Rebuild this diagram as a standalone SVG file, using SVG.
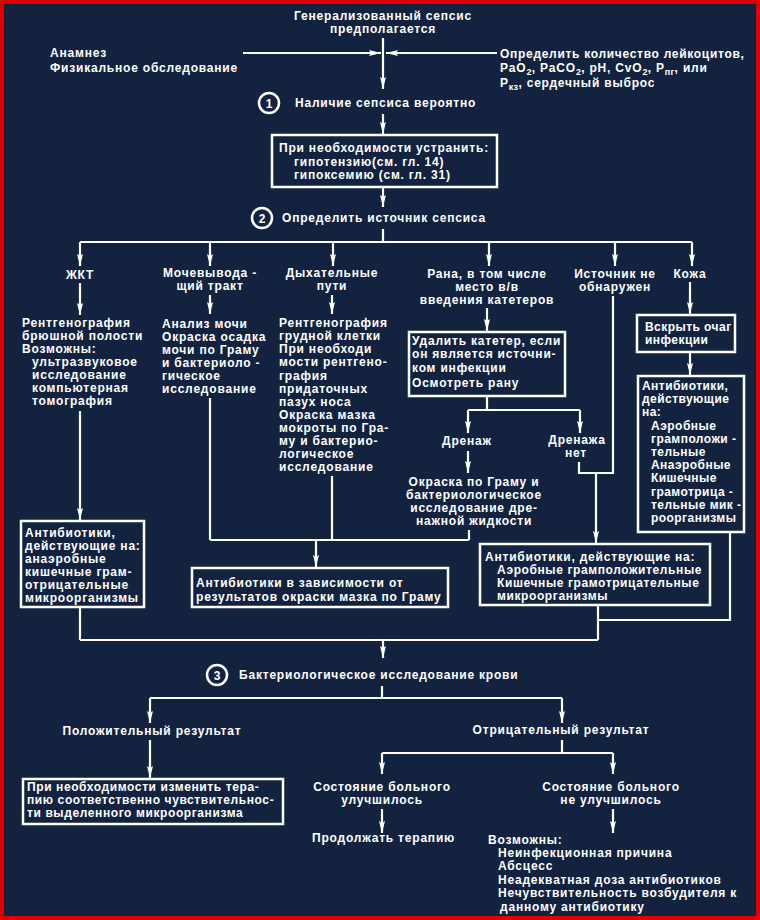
<svg xmlns="http://www.w3.org/2000/svg" width="760" height="920" viewBox="0 0 760 920">
<defs>
<style>
.t{font-family:"Liberation Sans",Arial,sans-serif;font-size:12px;font-weight:bold;fill:#fff;letter-spacing:0.8px}
.m{text-anchor:middle}
.ln{stroke:#fff;stroke-width:2.2;fill:none}
.box{stroke:#fff;stroke-width:2.5;fill:none}
.sub{font-size:9px;letter-spacing:0.3px}
.nar{letter-spacing:0.45px}
.mid{letter-spacing:0.6px}
</style>
<marker id="ah" markerUnits="userSpaceOnUse" markerWidth="12" markerHeight="7" refX="12" refY="3.5" orient="auto">
<path d="M0,0.5 L12,3.5 L0,6.5 L2,3.5 z" fill="#fff"/>
</marker>
</defs>
<rect x="0" y="0" width="760" height="920" fill="#13233f"/>
<rect x="2" y="2" width="756" height="916" fill="none" stroke="#e00000" stroke-width="4"/>

<g id="connectors">
<line class="ln" x1="383" y1="38" x2="383" y2="89" marker-end="url(#ah)"/>
<line class="ln" x1="243" y1="53" x2="381" y2="53" marker-end="url(#ah)"/>
<line class="ln" x1="497" y1="53" x2="386" y2="53" marker-end="url(#ah)"/>
<line class="ln" x1="383" y1="114" x2="383" y2="134" marker-end="url(#ah)"/>
<line class="ln" x1="383" y1="187" x2="383" y2="207" marker-end="url(#ah)"/>
<line class="ln" x1="383" y1="229" x2="383" y2="242"/>
<line class="ln" x1="80" y1="242" x2="692" y2="242"/>
<line class="ln" x1="80" y1="242" x2="80" y2="266" marker-end="url(#ah)"/>
<line class="ln" x1="210" y1="242" x2="210" y2="266" marker-end="url(#ah)"/>
<line class="ln" x1="333" y1="242" x2="333" y2="266" marker-end="url(#ah)"/>
<line class="ln" x1="489" y1="242" x2="489" y2="266" marker-end="url(#ah)"/>
<line class="ln" x1="615" y1="242" x2="615" y2="266" marker-end="url(#ah)"/>
<line class="ln" x1="692" y1="242" x2="692" y2="266" marker-end="url(#ah)"/>
<line class="ln" x1="80" y1="283" x2="80" y2="315" marker-end="url(#ah)"/>
<line class="ln" x1="210" y1="295" x2="210" y2="314" marker-end="url(#ah)"/>
<line class="ln" x1="332" y1="295" x2="332" y2="314" marker-end="url(#ah)"/>
<line class="ln" x1="487" y1="308" x2="487" y2="331" marker-end="url(#ah)"/>
<line class="ln" x1="690" y1="282" x2="690" y2="314" marker-end="url(#ah)"/>
<line class="ln" x1="80" y1="411" x2="80" y2="520" marker-end="url(#ah)"/>
<line class="ln" x1="80" y1="607" x2="80" y2="640"/>
<line class="ln" x1="80" y1="640" x2="598" y2="640"/>
<line class="ln" x1="210" y1="398" x2="210" y2="540"/>
<line class="ln" x1="332" y1="476" x2="332" y2="540"/>
<line class="ln" x1="210" y1="540" x2="469" y2="540"/>
<line class="ln" x1="469" y1="530" x2="469" y2="540"/>
<line class="ln" x1="316" y1="540" x2="316" y2="567" marker-end="url(#ah)"/>
<line class="ln" x1="487" y1="396" x2="487" y2="410"/>
<line class="ln" x1="468" y1="410" x2="580" y2="410"/>
<line class="ln" x1="468" y1="410" x2="468" y2="433" marker-end="url(#ah)"/>
<line class="ln" x1="580" y1="410" x2="580" y2="433" marker-end="url(#ah)"/>
<line class="ln" x1="468" y1="451" x2="468" y2="473" marker-end="url(#ah)"/>
<polyline class="ln" points="579,462 579,473 613,473 613,296"/>
<line class="ln" x1="596" y1="473" x2="596" y2="543" marker-end="url(#ah)"/>
<line class="ln" x1="690" y1="352" x2="690" y2="375" marker-end="url(#ah)"/>
<polyline class="ln" points="730,532 730,620 598,620"/>
<line class="ln" x1="598" y1="605" x2="598" y2="640"/>
<line class="ln" x1="383" y1="640" x2="383" y2="658" marker-end="url(#ah)"/>
<line class="ln" x1="382" y1="686" x2="382" y2="698"/>
<line class="ln" x1="150" y1="698" x2="562" y2="698"/>
<line class="ln" x1="150" y1="698" x2="150" y2="723" marker-end="url(#ah)"/>
<line class="ln" x1="562" y1="698" x2="562" y2="723" marker-end="url(#ah)"/>
<line class="ln" x1="150" y1="740" x2="150" y2="778" marker-end="url(#ah)"/>
<line class="ln" x1="562" y1="740" x2="562" y2="753"/>
<line class="ln" x1="382" y1="753" x2="613" y2="753"/>
<line class="ln" x1="382" y1="753" x2="382" y2="774" marker-end="url(#ah)"/>
<line class="ln" x1="613" y1="753" x2="613" y2="774" marker-end="url(#ah)"/>
<line class="ln" x1="382" y1="809" x2="382" y2="833" marker-end="url(#ah)"/>
<line class="ln" x1="613" y1="809" x2="613" y2="833" marker-end="url(#ah)"/>
</g>

<g id="start">
<text class="t m" x="383" y="20">Генерализованный сепсис</text>
<text class="t m" x="383" y="33">предполагается</text>
</g>
<g id="anamnesis">
<text class="t" x="50" y="57">Анамнез</text>
<text class="t" x="50" y="72">Физикальное обследование</text>
</g>
<g id="labs">
<text class="t" x="500" y="58" style="letter-spacing:0.7px">Определить количество лейкоцитов,</text>
<text class="t" x="500" y="72">PaO<tspan class="sub" dy="3">2</tspan><tspan dy="-3">, PaCO</tspan><tspan class="sub" dy="3">2</tspan><tspan dy="-3">, pH, CvO</tspan><tspan class="sub" dy="3">2</tspan><tspan dy="-3">, P</tspan><tspan class="sub" dy="3">пг</tspan><tspan dy="-3">, или</tspan></text>
<text class="t" x="500" y="87">P<tspan class="sub" dy="3">кз</tspan><tspan dy="-3">, сердечный выброс</tspan></text>
</g>
<g id="step1">
<circle class="box" cx="269" cy="103" r="10" stroke-width="2"/>
<text class="t m" x="269" y="107.5" style="letter-spacing:0">1</text>
<text class="t" x="295" y="107">Наличие сепсиса вероятно</text>
</g>
<g id="correct">
<rect class="box" x="272" y="135" width="225" height="52"/>
<text class="t" x="279" y="152">При необходимости устранить:</text>
<text class="t" x="294" y="166">гипотензию(см. гл. 14)</text>
<text class="t" x="294" y="179">гипоксемию (см. гл. 31)</text>
</g>
<g id="step2">
<circle class="box" cx="262" cy="218" r="10" stroke-width="2"/>
<text class="t m" x="262" y="222.5" style="letter-spacing:0">2</text>
<text class="t" x="282" y="222">Определить источник сепсиса</text>
</g>
<g id="gi">
<text class="t m" x="80" y="279">ЖКТ</text>
<text class="t" x="22" y="327">Рентгенография</text>
<text class="t" x="22" y="340">брюшной полости</text>
<text class="t" x="22" y="353">Возможны:</text>
<text class="t" x="32" y="366">ультразвуковое</text>
<text class="t" x="32" y="379">исследование</text>
<text class="t" x="32" y="392">компьютерная</text>
<text class="t" x="32" y="405">томография</text>
</g>
<g id="gi-abx">
<rect class="box" x="21" y="521" width="123" height="86"/>
<text class="t" x="25" y="537">Антибиотики,</text>
<text class="t" x="25" y="550">действующие на:</text>
<text class="t" x="25" y="563">анаэробные</text>
<text class="t" x="25" y="576">кишечные грам-</text>
<text class="t" x="25" y="589">отрицательные</text>
<text class="t" x="25" y="602">микроорганизмы</text>
</g>
<g id="urinary">
<text class="t m" x="210" y="277">Мочевывода -</text>
<text class="t m" x="210" y="290">щий тракт</text>
<text class="t" x="162" y="328">Анализ мочи</text>
<text class="t" x="162" y="341">Окраска осадка</text>
<text class="t" x="162" y="354">мочи по Граму</text>
<text class="t" x="162" y="367">и бактериоло -</text>
<text class="t" x="162" y="380">гическое</text>
<text class="t" x="162" y="393">исследование</text>
</g>
<g id="respiratory">
<text class="t m" x="332" y="277">Дыхательные</text>
<text class="t m" x="332" y="290">пути</text>
<text class="t" x="279" y="327">Рентгенография</text>
<text class="t" x="279" y="340">грудной клетки</text>
<text class="t" x="279" y="353">При необходи</text>
<text class="t" x="279" y="366">мости рентгено-</text>
<text class="t" x="279" y="380">графия</text>
<text class="t" x="279" y="393">придаточных</text>
<text class="t" x="279" y="406">пазух носа</text>
<text class="t" x="279" y="419">Окраска мазка</text>
<text class="t" x="279" y="432">мокроты по Гра-</text>
<text class="t" x="279" y="445">му и  бактерио-</text>
<text class="t" x="279" y="458">логическое</text>
<text class="t" x="279" y="471">исследование</text>
</g>
<g id="gram-abx">
<rect class="box" x="192" y="568" width="256" height="39"/>
<text class="t" x="196" y="587">Антибиотики в зависимости от</text>
<text class="t" x="196" y="601">результатов окраски мазка по Граму</text>
</g>
<g id="wound">
<text class="t m" x="487" y="278">Рана, в том числе</text>
<text class="t m" x="487" y="291">место в/в</text>
<text class="t m" x="487" y="304">введения катетеров</text>
</g>
<g id="catheter">
<rect class="box" x="409" y="332" width="156" height="64"/>
<text class="t" x="412" y="345">Удалить катетер, если</text>
<text class="t" x="412" y="358">он является источни-</text>
<text class="t" x="412" y="372">ком инфекции</text>
<text class="t" x="412" y="387">Осмотреть рану</text>
</g>
<g id="drainage">
<text class="t m" x="467" y="445">Дренаж</text>
<text class="t m" x="474" y="486">Окраска по Граму и</text>
<text class="t m" x="474" y="499">бактериологическое</text>
<text class="t m" x="474" y="512">исследование дре-</text>
<text class="t m" x="474" y="525">нажной жидкости</text>
</g>
<g id="no-drainage">
<text class="t m" x="577" y="444">Дренажа</text>
<text class="t m" x="576" y="457">нет</text>
</g>
<g id="unknown">
<text class="t m" x="615" y="278">Источник не</text>
<text class="t m" x="615" y="291">обнаружен</text>
</g>
<g id="broad-abx">
<rect class="box" x="480" y="544" width="230" height="61"/>
<text class="t" x="485" y="561">Антибиотики, действующие на:</text>
<text class="t mid" x="497" y="574">Аэробные грамположительные</text>
<text class="t mid" x="497" y="587">Кишечные грамотрицательные</text>
<text class="t mid" x="497" y="600">микроорганизмы</text>
</g>
<g id="skin">
<text class="t m" x="690" y="278">Кожа</text>
<rect class="box" x="637" y="315" width="98" height="37"/>
<text class="t nar" x="645" y="331">Вскрыть очаг</text>
<text class="t nar" x="645" y="344">инфекции</text>
</g>
<g id="skin-abx">
<rect class="box" x="638" y="376" width="106" height="156"/>
<text class="t nar" x="642" y="390">Антибиотики,</text>
<text class="t nar" x="642" y="403">действующие</text>
<text class="t nar" x="642" y="416">на:</text>
<text class="t nar" x="651" y="430">Аэробные</text>
<text class="t nar" x="651" y="443">грамположи -</text>
<text class="t nar" x="651" y="456">тельные</text>
<text class="t nar" x="651" y="469">Анаэробные</text>
<text class="t nar" x="651" y="482">Кишечные</text>
<text class="t nar" x="651" y="496">грамотрица -</text>
<text class="t nar" x="651" y="509">тельные мик -</text>
<text class="t nar" x="651" y="522">роорганизмы</text>
</g>
<g id="step3">
<circle class="box" cx="217" cy="675" r="10" stroke-width="2"/>
<text class="t m" x="217" y="679.5" style="letter-spacing:0">3</text>
<text class="t" x="239" y="679">Бактериологическое исследование крови</text>
</g>
<g id="positive">
<text class="t m" x="152" y="735">Положительный результат</text>
<rect class="box" x="23" y="779" width="260" height="45"/>
<text class="t mid" x="27" y="791">При необходимости изменить тера-</text>
<text class="t mid" x="27" y="804">пию соответственно чувствительнос-</text>
<text class="t mid" x="27" y="817">ти выделенного микроорганизма</text>
</g>
<g id="negative">
<text class="t m" x="561" y="734">Отрицательный результат</text>
</g>
<g id="improved">
<text class="t m" x="382" y="791">Состояние больного</text>
<text class="t m" x="382" y="804">улучшилось</text>
<text class="t" x="312" y="842">Продолжать терапию</text>
</g>
<g id="not-improved">
<text class="t m" x="611" y="791">Состояние больного</text>
<text class="t m" x="611" y="804">не улучшилось</text>
<text class="t" x="488" y="844">Возможны:</text>
<text class="t" x="498" y="857">Неинфекционная причина</text>
<text class="t" x="498" y="870">Абсцесс</text>
<text class="t" x="498" y="884">Неадекватная доза антибиотиков</text>
<text class="t" x="498" y="897">Нечувствительность возбудителя к</text>
<text class="t" x="500" y="911">данному антибиотику</text>
</g>
</svg>
